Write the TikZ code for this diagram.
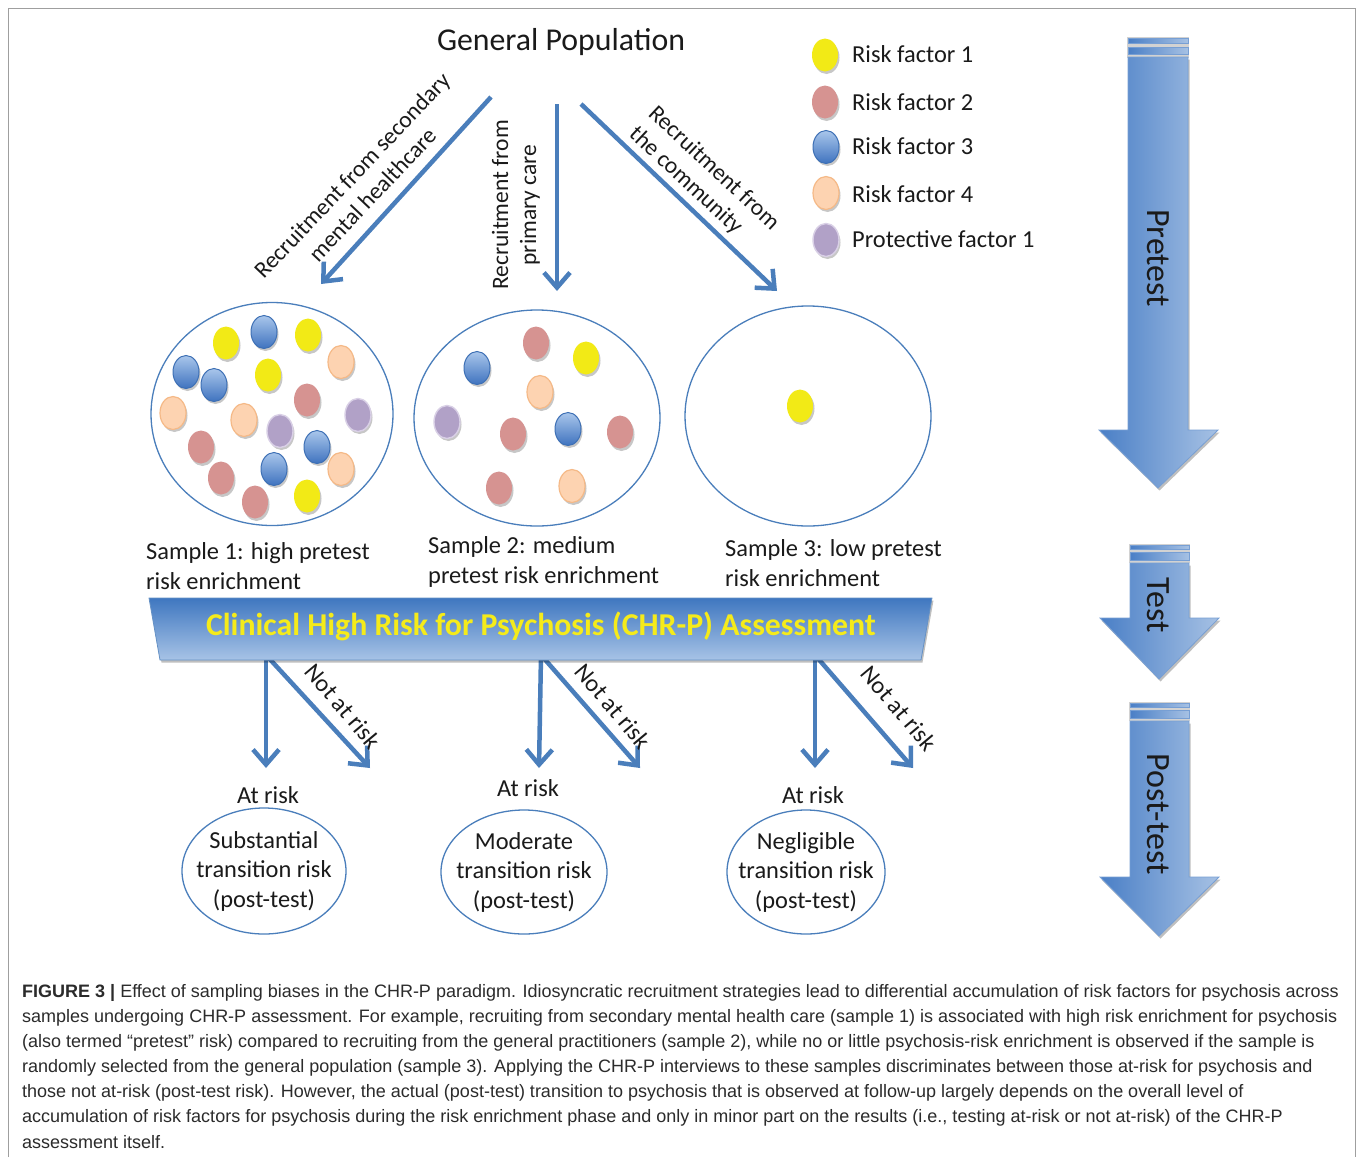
\documentclass[tikz,border=0pt]{standalone}
\usepackage{fontspec}
\setmainfont{Carlito}
\newfontfamily\capfont{Liberation Sans}
\usetikzlibrary{arrows.meta,shapes.geometric,shadows}
\definecolor{arrblue}{HTML}{4A7EBB}
\definecolor{cyel}{HTML}{F2EA16}
\definecolor{cpnk}{HTML}{D69391}
\definecolor{cbluT}{HTML}{A9C6EB}
\definecolor{cbluB}{HTML}{3F73BF}
\definecolor{cbluO}{HTML}{3E70B5}
\definecolor{cpch}{HTML}{FDD3B1}
\definecolor{cpchO}{HTML}{F5B987}
\definecolor{cpur}{HTML}{B1A1C7}
\definecolor{cpurO}{HTML}{D9D0E6}
\definecolor{bandTop}{HTML}{3F77C0}
\definecolor{bandBot}{HTML}{A7C3E6}
\definecolor{bigL}{HTML}{4A7FC6}
\definecolor{bigR}{HTML}{A6C1E4}
\definecolor{banyel}{HTML}{F5EB1A}
\definecolor{txt}{HTML}{1A1A1A}
\definecolor{captxt}{HTML}{2B2B2B}
\begin{document}
\begin{tikzpicture}[x=1pt,y=-1pt,
  dot/.style={ellipse, minimum width=26pt, minimum height=33pt, inner sep=0pt,
    drop shadow={shadow xshift=1.5pt, shadow yshift=-2.5pt, opacity=0.22, fill=black}},
  yel/.style={dot, fill=cyel},
  pnk/.style={dot, fill=cpnk},
  blu/.style={dot, top color=cbluT, bottom color=cbluB, draw=cbluO, line width=1pt},
  pch/.style={dot, fill=cpch, draw=cpchO, line width=1.2pt},
  pur/.style={dot, fill=cpur, draw=cpurO, line width=1.4pt},
  lbl/.style={font=\fontsize{24.4}{30}\selectfont, text=txt, inner sep=0pt},
  rlbl/.style={font=\fontsize{23.5}{28}\selectfont, text=txt, inner sep=0pt},
  samplec/.style={draw=arrblue, line width=1.3pt, ellipse, inner sep=0pt},
  arr/.style={draw=arrblue, line width=4.5pt, -{Straight Barb[length=15pt,width=26pt]}},
  bigarrow/.style={left color=bigL, right color=bigR, draw=bigL!75!white, line width=0.8pt},
  bigtxt/.style={font=\fontsize{34}{40}\selectfont, text=txt, rotate=-90, inner sep=0pt},
  captxtst/.style={font=\capfont\fontsize{18}{25}\selectfont, text=captxt, anchor=base west, inner sep=0pt}
]
\useasboundingbox (0,0) rectangle (1357,1157);
\fill[white] (0,0) rectangle (1357,1157);
% frame
\draw[gray!75, line width=1.6pt] (8.5,1157) -- (8.5,8.5) -- (1355.5,8.5) -- (1355.5,1157);

% title
\node[font=\fontsize{31.8}{36}\selectfont, text=txt] (gp) at (561,42) {General Population};

% top arrows
\coordinate (t1s) at (491,97);  \coordinate (t1e) at (321,284);
\coordinate (t2s) at (557,104); \coordinate (t2e) at (557,291);
\coordinate (t3s) at (581,104); \coordinate (t3e) at (777,291);
\draw[arr] (t1s) -- (t1e);
\draw[arr] (t2s) -- (t2e);
\draw[arr] (t3s) -- (t3e);
\node[rlbl, rotate=46.5, align=center] (l1) at (362,185) {Recruitment from secondary\\mental healthcare};
\node[rlbl, rotate=90, align=center] (l2) at (516,205) {Recruitment from\\primary care};
\node[rlbl, rotate=-43, align=left] (l3) at (704,179) {Recruitment from\\the community};

% legend
\node[yel] (g1) at (825,55) {};
\node[pnk] (g2) at (825,102) {};
\node[blu] (g3) at (826,147) {};
\node[pch] (g4) at (826,193) {};
\node[pur] (g5) at (826,240) {};
\node[lbl, anchor=west] (gt1) at (852,54) {Risk factor 1};
\node[lbl, anchor=west] (gt2) at (852,102) {Risk factor 2};
\node[lbl, anchor=west] (gt3) at (852,146) {Risk factor 3};
\node[lbl, anchor=west] (gt4) at (852,194) {Risk factor 4};
\node[lbl, anchor=west] (gt5) at (852,239) {Protective factor 1};

% sample circles
\node[samplec, minimum width=242pt, minimum height=223pt] (s1) at (272,414) {};
\node[samplec, minimum width=246pt, minimum height=216pt] (s2) at (537,418) {};
\node[samplec, minimum width=246pt, minimum height=220pt] (s3) at (808,416) {};

\foreach \s/\x/\y [count=\i] in {yel/226/343, blu/264/332, yel/308/335, pch/341/362,
  blu/186/372, blu/214/385, yel/268/375, pnk/307/400, pch/173/413, pch/244/420,
  pur/280/431, pur/358/415, pnk/201/447, blu/317/447, blu/274/469, pch/341/469,
  pnk/221/478, pnk/255/502, yel/307/496}
  \node[style=\s] (a\i) at (\x,\y) {};
\foreach \s/\x/\y [count=\i] in {pnk/536/343, blu/477/368, yel/586/358, pch/540/392,
  pur/447/422, pnk/513/434, blu/568/429, pnk/620/432, pnk/499/488, pch/572/486}
  \node[style=\s] (b\i) at (\x,\y) {};
\node[yel] (c1) at (800,406) {};

% sample labels
\node[lbl, anchor=west, align=left] (sl1) at (146,566) {Sample 1: high pretest\\risk enrichment};
\node[lbl, anchor=west, align=left] (sl2) at (428,562) {Sample 2: medium\\pretest risk enrichment};
\node[lbl, anchor=west, align=left] (sl3) at (725,563) {Sample 3: low pretest\\risk enrichment};

% bottom arrows
\coordinate (b1) at (266,655); \coordinate (b1v) at (266,768); \coordinate (b1d) at (370,768);
\coordinate (b2) at (541,655); \coordinate (b2v) at (539,768); \coordinate (b2d) at (640,768);
\coordinate (b3) at (815,655); \coordinate (b3v) at (815,768); \coordinate (b3d) at (913,768);
\draw[arr] (b1) -- (b1v); \draw[arr] (b1) -- (b1d);
\draw[arr] (b2) -- (b2v); \draw[arr] (b2) -- (b2d);
\draw[arr] (b3) -- (b3v); \draw[arr] (b3) -- (b3d);
\node[lbl, rotate=-50] (n1) at (343,706) {Not at risk};
\node[lbl, rotate=-50] (n2) at (613,706) {Not at risk};
\node[lbl, rotate=-50] (n3) at (899,708) {Not at risk};

% banner
\shade[top color=bandTop, bottom color=bandBot, draw=arrblue!85!white, line width=0.8pt,
  drop shadow={shadow xshift=1.5pt, shadow yshift=-2.5pt, opacity=0.25, fill=black}]
  (149,598) -- (932,598) -- (921,660) -- (160,660) -- cycle;
\node[font=\bfseries\fontsize{31.8}{36}\selectfont, text=banyel] (chrp) at (541,626) {Clinical High Risk for Psychosis (CHR-P) Assessment};

% at risk
\node[lbl] (ar1) at (268,795) {At risk};
\node[lbl] (ar2) at (528,788) {At risk};
\node[lbl] (ar3) at (813,795) {At risk};

% outcome circles
\node[samplec, minimum width=164pt, minimum height=126pt] (e1) at (264,871) {};
\node[samplec, minimum width=166pt, minimum height=124pt] (e2) at (524,872) {};
\node[samplec, minimum width=158pt, minimum height=124pt] (e3) at (806,872) {};
\node[lbl, align=center, font=\fontsize{24.4}{29.5}\selectfont] (et1) at (e1) {Substantial\\transition risk\\(post-test)};
\node[lbl, align=center, font=\fontsize{24.4}{29.5}\selectfont] (et2) at (e2) {Moderate\\transition risk\\(post-test)};
\node[lbl, align=center, font=\fontsize{24.4}{29.5}\selectfont] (et3) at (e3) {Negligible\\transition risk\\(post-test)};

% big arrows
\fill[gray!35] (1127,37) rectangle (1189,58);
\shade[bigarrow] (1128,38) rectangle (1188,43);
\shade[bigarrow] (1128,47) rectangle (1188,54);
\shade[bigarrow, drop shadow={shadow xshift=1.5pt, shadow yshift=-2.5pt, opacity=0.25, fill=black}]
  (1128,57) -- (1188,57) -- (1188,430) -- (1218,430) -- (1158,488) -- (1099,430) -- (1128,430) -- cycle;
\node[bigtxt] (pre) at (1158,258) {Pretest};

\fill[gray!35] (1129,544) rectangle (1190,563);
\shade[bigarrow] (1130,545) rectangle (1189,549);
\shade[bigarrow] (1130,552) rectangle (1189,560);
\shade[bigarrow, drop shadow={shadow xshift=1.5pt, shadow yshift=-2.5pt, opacity=0.25, fill=black}]
  (1130,563) -- (1189,563) -- (1189,618) -- (1219,618) -- (1159,679) -- (1100,618) -- (1130,618) -- cycle;
\node[bigtxt] (tst) at (1158,605) {Test};

\fill[gray!35] (1129,702) rectangle (1190,721);
\shade[bigarrow] (1130,703) rectangle (1189,707);
\shade[bigarrow] (1130,710) rectangle (1189,718);
\shade[bigarrow, drop shadow={shadow xshift=1.5pt, shadow yshift=-2.5pt, opacity=0.25, fill=black}]
  (1130,721) -- (1189,721) -- (1189,877) -- (1219,877) -- (1159,936) -- (1100,877) -- (1130,877) -- cycle;
\node[bigtxt] (post) at (1158,814) {Post-test};

% caption
\node[captxtst] (cap1) at (22,997) {\textbf{FIGURE 3 |} Effect of sampling biases in the CHR-P paradigm. Idiosyncratic recruitment strategies lead to differential accumulation of risk factors for psychosis across};
\node[captxtst] (cap2) at (22,1022.2) {samples undergoing CHR-P assessment. For example, recruiting from secondary mental health care (sample 1) is associated with high risk enrichment for psychosis};
\node[captxtst] (cap3) at (22,1047.3) {(also termed “pretest” risk) compared to recruiting from the general practitioners (sample 2), while no or little psychosis-risk enrichment is observed if the sample is};
\node[captxtst] (cap4) at (22,1072.5) {randomly selected from the general population (sample 3). Applying the CHR-P interviews to these samples discriminates between those at-risk for psychosis and};
\node[captxtst] (cap5) at (22,1097.7) {those not at-risk (post-test risk). However, the actual (post-test) transition to psychosis that is observed at follow-up largely depends on the overall level of};
\node[captxtst] (cap6) at (22,1122.8) {accumulation of risk factors for psychosis during the risk enrichment phase and only in minor part on the results (i.e., testing at-risk or not at-risk) of the CHR-P};
\node[captxtst] (cap7) at (22,1148) {assessment itself.};
\end{tikzpicture}
\end{document}
